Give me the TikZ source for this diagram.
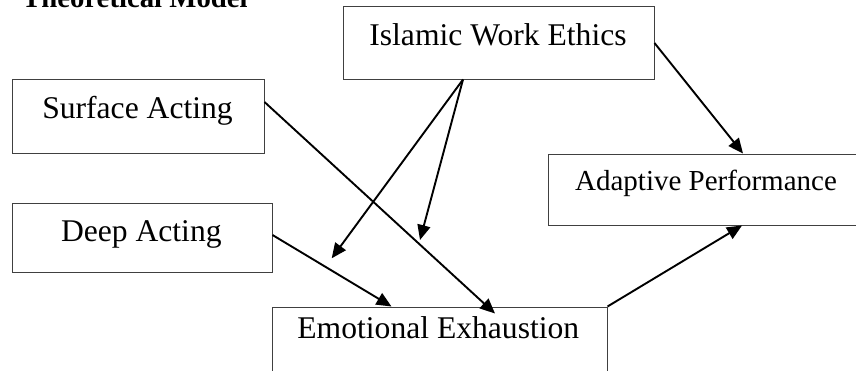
\documentclass[tikz,border=0pt]{standalone}
\usepackage{fontspec}
\setmainfont{Liberation Serif}
\usetikzlibrary{arrows.meta}
\definecolor{boxline}{HTML}{404040}
\tikzset{
  box/.style={draw=boxline, line width=1pt, inner sep=0pt, rectangle},
  lbl/.style={anchor=base, inner sep=0pt, font=\fontsize{31.6}{36}\selectfont},
  arr/.style={line width=1.9pt, -{Triangle[length=15pt,width=13pt]}, shorten >=0pt}
}
\begin{document}
\begin{tikzpicture}[x=1pt,y=-1pt]
\useasboundingbox (0,0) rectangle (856,370);
\clip (0,0) rectangle (856,370);
% title
\node[anchor=base west, inner sep=0pt, font=\fontsize{28.75}{32}\selectfont\bfseries] (title) at (22,7) {Theoretical Model};
% boxes
\node[box, minimum width=311pt, minimum height=73pt] (iwe) at (498.5,42.5) {};
\node[box, minimum width=252pt, minimum height=74pt] (sa) at (138,116) {};
\node[box, minimum width=260pt, minimum height=69pt] (da) at (142,237.5) {};
\node[box, minimum width=335pt, minimum height=90pt] (ee) at (439.5,352) {};
\node[box, minimum width=330pt, minimum height=71pt] (ap) at (713,189.5) {};
% labels
\node[lbl] (iwet) at (498,45) {Islamic Work Ethics};
\node[lbl] (sat) at (137.5,118) {Surface Acting};
\node[lbl] (dat) at (141.3,241.7) {Deep Acting};
\node[lbl] (eet) at (438.3,338) {Emotional Exhaustion};
\node[lbl, font=\fontsize{29}{33}\selectfont] (apt) at (706,190.7) {Adaptive Performance};
% free ends
\coordinate (m1) at (331.7,258.3);
\coordinate (m2) at (420,240);
% connectors
\draw[arr] ([yshift=-0.5pt]iwe.east) -- ([xshift=30pt]ap.north);
\draw[arr] ([xshift=-35.5pt]iwe.south) -- (m1);
\draw[arr] ([xshift=-35.5pt]iwe.south) -- (m2);
\draw[arr] ([yshift=14pt]sa.east) -- ([xshift=55.5pt,yshift=-7pt]ee.north);
\draw[arr] ([yshift=2.5pt]da.east) -- ([xshift=-48pt]ee.north);
\draw[arr] (ee.north east) -- ([xshift=29pt]ap.south);
\end{tikzpicture}
\end{document}
